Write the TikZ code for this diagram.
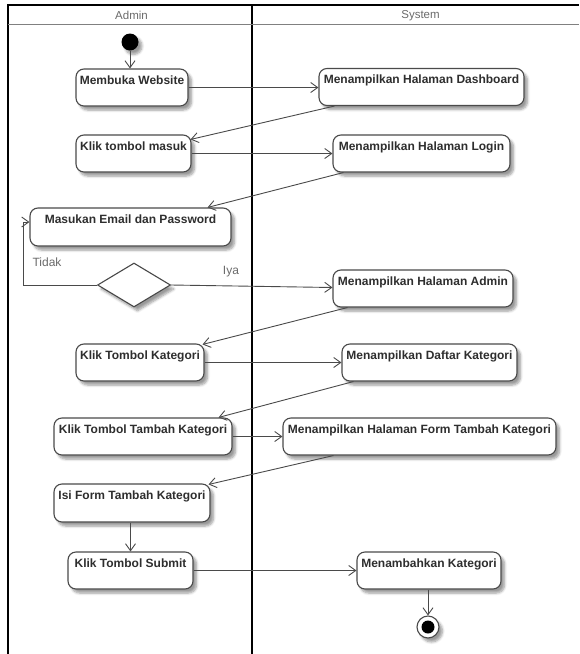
\documentclass[tikz,border=0pt]{standalone}
\usepackage{fontspec}
\setmainfont{Liberation Sans}
\usetikzlibrary{arrows.meta,shapes.geometric,shadows,shadows.blur,calc}
\definecolor{ink}{HTML}{2E2E2E}
\definecolor{edge}{HTML}{4A4A4A}
\definecolor{lanetext}{HTML}{6A6A6A}
\begin{document}
\begin{tikzpicture}[x=1pt,y=-1pt,
  soft/.style={blur shadow={shadow blur steps=6, shadow xshift=3.5pt, shadow yshift=-4pt, shadow opacity=40, shadow blur radius=2.5pt}},
  act/.style={draw=edge, line width=1.1pt, rounded corners=8pt, fill=white, soft,
    minimum height=37pt, inner sep=0pt,
    label={[anchor=north, inner sep=0pt, yshift=-7pt, text=ink,
      font=\fontsize{12}{14}\selectfont\bfseries]north:#1}},
  decision/.style={diamond, draw=edge, line width=1.1pt, fill=white, soft, inner sep=0pt},
  flow/.style={draw=edge, line width=0.9pt, -{Straight Barb[length=7pt,width=10pt]}},
  lane/.style={draw=black, line width=1.3pt},
  lanehead/.style={text=lanetext, font=\fontsize{11.5}{13}\selectfont},
  guard/.style={text=lanetext, font=\fontsize{12}{14}\selectfont},
]
\useasboundingbox (0,0) rectangle (579,654);

% swimlanes
\draw[lane] (8,654) -- (8,5) -- (579,5);
\draw[draw=black, line width=2pt] (252,5) -- (252,654);
\draw[draw=gray, line width=0.8pt] (8,24) -- (579,24);
\node[lanehead] (hadmin) at (131.5,15.5) {Admin};
\node[lanehead] (hsys) at (420.5,15.5) {System};

% start / end
\node[circle, fill=black, minimum size=17pt, inner sep=0pt, soft] (start) at (130,42) {};
\node[circle, draw=edge, line width=1.1pt, fill=white, minimum size=22pt, inner sep=0pt, soft] (fin) at (428,627) {};
\node[circle, fill=black, minimum size=13pt, inner sep=0pt] (fincore) at (fin.center) {};

% actions
\node[act={Membuka Website}, minimum width=112pt] (web) at (132,87.5) {};
\node[act={Menampilkan Halaman Dashboard}, minimum width=205pt] (dash) at (421.5,87) {};
\node[act={Klik tombol masuk}, minimum width=115pt] (masuk) at (133.5,153.5) {};
\node[act={Menampilkan Halaman Login}, minimum width=177pt] (login) at (421.5,153.5) {};
\node[act={Masukan Email dan Password}, minimum width=201pt, minimum height=38pt] (email) at (130.5,227) {};
\node[decision, minimum width=73pt, minimum height=44pt] (dia) at (134,285) {};
\node[act={Menampilkan Halaman Admin}, minimum width=180pt] (admin) at (423,288.5) {};
\node[act={Klik Tombol Kategori}, minimum width=128pt] (kat) at (140,362.5) {};
\node[act={Menampilkan Daftar Kategori}, minimum width=175pt] (daftar) at (429.5,362.5) {};
\node[act={Klik Tombol Tambah Kategori}, minimum width=178pt] (tambah) at (143,436.5) {};
\node[act={Menampilkan Halaman Form Tambah Kategori}, minimum width=273pt] (form) at (419.5,436.5) {};
\node[act={Isi Form Tambah Kategori}, minimum width=156pt, minimum height=38pt] (isi) at (132,503) {};
\node[act={Klik Tombol Submit}, minimum width=125pt] (submit) at (130.5,570.5) {};
\node[act={Menambahkan Kategori}, minimum width=144pt] (tambahkan) at (429,570.5) {};

% guards
\node[guard] (tidak) at (47,262) {Tidak};
\node[guard] (iya) at (231,272) {Iya};

% flows
\draw[flow] (start) -- (web.north -| start);
\draw[flow] (web.east) -- (web.east -| dash.west);
\draw[flow] ($(dash.south west)+(16,0)$) -- ($(masuk.north east)+(-1,5)$);
\draw[flow] (masuk.east) -- (masuk.east -| login.west);
\draw[flow] ($(login.south west)+(11,0)$) -- ($(email.north east)+(-24,0)$);
\coordinate (loop) at (23,285);
\draw[flow] (dia.west) -- (loop) |- ($(email.west)+(0,-5)$);
\draw[flow] (dia.east) -- ($(admin.west)+(0,-1)$);
\draw[flow] ($(admin.south west)+(15,0)$) -- ($(kat.north east)+(-2,1)$);
\draw[flow] (kat.east) -- (kat.east -| daftar.west);
\draw[flow] ($(daftar.south west)+(12,0)$) -- ($(tambah.north east)+(-14,0)$);
\draw[flow] (tambah.east) -- (tambah.east -| form.west);
\draw[flow] ($(form.south west)+(51,0)$) -- ($(isi.north east)+(-2,1)$);
\draw[flow] (isi.south -| submit.north) -- (submit.north);
\draw[flow] (submit.east) -- (submit.east -| tambahkan.west);
\draw[flow] (tambahkan.south -| fin.north) -- (fin.north);
\end{tikzpicture}
\end{document}
